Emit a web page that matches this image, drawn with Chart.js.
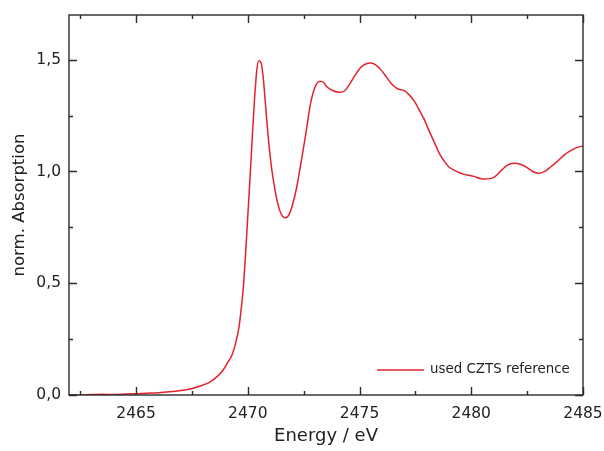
<!DOCTYPE html>
<html>
<head>
<meta charset="utf-8">
<script src="https://cdn.jsdelivr.net/npm/chart.js@4"></script>
<style>
  html, body { margin: 0; padding: 0; background: #ffffff; }
  canvas { display: block; }
</style>
</head>
<body>
<canvas id="c" width="604" height="451"></canvas>
<script>
const energy = [
  2462.0, 2462.5, 2463.0, 2463.5, 2464.0, 2464.5, 2465.0, 2465.5, 2466.0, 2466.5,
  2467.0, 2467.5, 2468.0, 2468.3, 2468.6, 2468.9, 2469.1, 2469.3, 2469.45, 2469.6,
  2469.7, 2469.8, 2469.9, 2470.0, 2470.1, 2470.2, 2470.3, 2470.4, 2470.5, 2470.6,
  2470.7, 2470.8, 2470.9, 2471.0, 2471.1, 2471.25, 2471.4, 2471.55, 2471.7, 2471.85,
  2472.0, 2472.2, 2472.4, 2472.6, 2472.8, 2473.0, 2473.2, 2473.35, 2473.55, 2473.8,
  2474.1, 2474.35, 2474.55, 2474.8, 2475.05, 2475.3, 2475.5, 2475.75, 2476.0, 2476.2,
  2476.45, 2476.7, 2477.0, 2477.2, 2477.45, 2477.7, 2477.9, 2478.1, 2478.35, 2478.6,
  2478.8, 2479.0, 2479.25, 2479.5, 2479.7, 2479.9, 2480.15, 2480.4, 2480.6, 2480.85,
  2481.05, 2481.3, 2481.6, 2481.9, 2482.2, 2482.5, 2482.75, 2483.0, 2483.25, 2483.55,
  2483.85, 2484.15, 2484.45, 2484.75, 2485.0
];
const absorption = [
  0.000, 0.000, 0.002, 0.003, 0.002, 0.004, 0.006, 0.008, 0.010, 0.014,
  0.020, 0.029, 0.045, 0.058, 0.080, 0.112, 0.145, 0.180, 0.230, 0.300,
  0.380, 0.480, 0.630, 0.800, 0.970, 1.150, 1.320, 1.450, 1.495, 1.485,
  1.410, 1.290, 1.170, 1.070, 0.990, 0.900, 0.835, 0.800, 0.793, 0.808,
  0.850, 0.935, 1.050, 1.170, 1.300, 1.375, 1.403, 1.402, 1.378, 1.362,
  1.354, 1.362, 1.390, 1.430, 1.465, 1.482, 1.485, 1.475, 1.450, 1.423,
  1.390, 1.370, 1.362, 1.345, 1.315, 1.270, 1.232, 1.185, 1.130, 1.075,
  1.045, 1.020, 1.005, 0.993, 0.987, 0.983, 0.977, 0.969, 0.966, 0.968,
  0.976, 1.000, 1.027, 1.037, 1.032, 1.017, 1.000, 0.992, 0.998, 1.020,
  1.045, 1.073, 1.093, 1.108, 1.114
];
const seriesLabel = "used CZTS reference";
const xMajorTicks = [2465, 2470, 2475, 2480, 2485];
const xMinorTicks = [2462.5, 2467.5, 2472.5, 2477.5, 2482.5];
const yMajorTicks = [0, 0.5, 1.0, 1.5];
const yMinorTicks = [0.25, 0.75, 1.25];
const xTitle = "Energy / eV";
const yTitle = "norm. Absorption";

const FONT = "'DejaVu Sans', sans-serif";
const AXIS_COLOR = "#2b2b2b";
const LINE_COLOR = "#e3232b";

const framePlugin = {
  id: 'frameTicks',
  afterDatasetsDraw(chart) {
    const { ctx, chartArea: { left, right, top, bottom }, scales: { x, y } } = chart;
    ctx.save();
    ctx.strokeStyle = AXIS_COLOR;
    ctx.lineWidth = 1.4;
    ctx.strokeRect(left, top, right - left, bottom - top);
    const drawX = (vals, len) => {
      vals.forEach(v => {
        const p = Math.round(x.getPixelForValue(v)) + 0.5;
        ctx.beginPath();
        ctx.moveTo(p, bottom); ctx.lineTo(p, bottom - len);
        ctx.moveTo(p, top); ctx.lineTo(p, top + len);
        ctx.stroke();
      });
    };
    const drawY = (vals, len) => {
      vals.forEach(v => {
        const p = Math.round(y.getPixelForValue(v)) + 0.5;
        ctx.beginPath();
        ctx.moveTo(left, p); ctx.lineTo(left + len, p);
        ctx.moveTo(right, p); ctx.lineTo(right - len, p);
        ctx.stroke();
      });
    };
    drawX(xMajorTicks, 8); drawX(xMinorTicks, 4);
    drawY(yMajorTicks, 8); drawY(yMinorTicks, 4);

    // legend inside plot, bottom right
    const ly = bottom - 25;
    ctx.strokeStyle = LINE_COLOR;
    ctx.lineWidth = 1.5;
    ctx.beginPath();
    ctx.moveTo(right - 206, ly); ctx.lineTo(right - 159, ly);
    ctx.stroke();
    ctx.fillStyle = "#222";
    ctx.font = "13.4px " + FONT;
    ctx.textBaseline = "middle";
    ctx.textAlign = "left";
    ctx.fillText(chart.data.datasets[0].label, right - 153, ly);
    ctx.restore();
  }
};

new Chart(document.getElementById('c'), {
  type: 'line',
  data: {
    datasets: [{
      label: seriesLabel,
      data: energy.map((e, i) => ({ x: e, y: absorption[i] })),
      borderColor: LINE_COLOR,
      borderWidth: 1.5,
      pointRadius: 0,
      fill: false,
      cubicInterpolationMode: 'monotone'
    }]
  },
  options: {
    responsive: false,
    animation: false,
    layout: { padding: { top: 15, right: 21, left: 0, bottom: 0 } },
    plugins: { legend: { display: false }, tooltip: { enabled: false } },
    scales: {
      x: {
        type: 'linear',
        min: 2462, max: 2485,
        afterBuildTicks: s => { s.ticks = xMajorTicks.map(v => ({ value: v })); },
        afterFit: s => { s.height = 56; s.paddingLeft = 0; s.paddingRight = 0; },
        grid: { display: false, drawTicks: false },
        border: { display: false },
        ticks: {
          padding: 10,
          color: "#222",
          font: { family: FONT, size: 15.5 },
          maxRotation: 0,
          callback: v => String(v)
        },
        title: {
          display: true, text: xTitle, color: "#222",
          font: { family: FONT, size: 18 },
          padding: { top: 0, bottom: 4 }
        }
      },
      y: {
        type: 'linear',
        min: 0, max: 1.7,
        afterBuildTicks: s => { s.ticks = yMajorTicks.map(v => ({ value: v })); },
        afterFit: s => { s.width = 69; s.paddingTop = 0; s.paddingBottom = 0; },
        grid: { display: false, drawTicks: false },
        border: { display: false },
        ticks: {
          padding: 8,
          color: "#222",
          font: { family: FONT, size: 15.5 },
          callback: v => v.toFixed(1).replace('.', ',')
        },
        title: {
          display: true, text: yTitle, color: "#222",
          font: { family: FONT, size: 16.5 },
          padding: { top: 10, bottom: 0 }
        }
      }
    }
  },
  plugins: [framePlugin]
});
</script>
</body>
</html>
